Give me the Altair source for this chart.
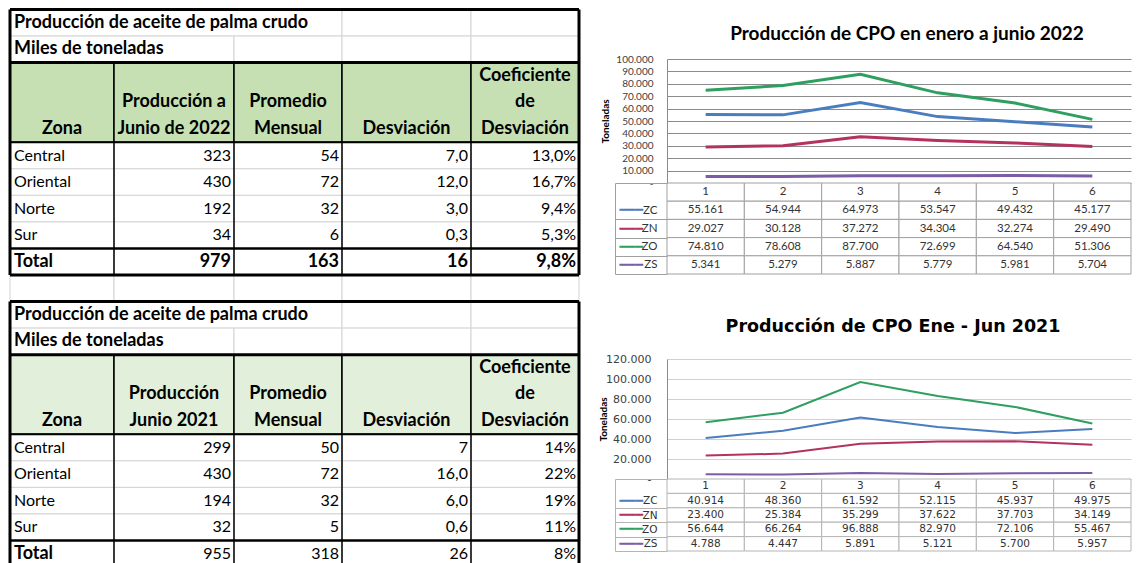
import altair as alt
import pandas as pd

FONT = "Lato"
FONT2 = "DejaVu Sans"

# ---------------- Tables (left) ----------------
t_titulo = "Producción de aceite de palma crudo"
t_unidad = "Miles de toneladas"
zonas = ["Central", "Oriental", "Norte", "Sur", "Total"]
enc_2022 = [["", "", "Zona"], ["", "Producción a", "Junio de 2022"], ["", "Promedio", "Mensual"],
            ["", "", "Desviación"], ["Coeficiente", "de", "Desviación"]]
enc_2021 = [["", "", "Zona"], ["", "Producción", "Junio 2021"], ["", "Promedio", "Mensual"],
            ["", "", "Desviación"], ["Coeficiente", "de", "Desviación"]]
prod_2022 = ["323", "430", "192", "34", "979"]
prom_2022 = ["54", "72", "32", "6", "163"]
desv_2022 = ["7,0", "12,0", "3,0", "0,3", "16"]
coef_2022 = ["13,0%", "16,7%", "9,4%", "5,3%", "9,8%"]
prod_2021 = ["299", "430", "194", "32", "955"]
prom_2021 = ["50", "72", "32", "5", "318"]
desv_2021 = ["7", "16,0", "6,0", "0,6", "26"]
coef_2021 = ["14%", "22%", "19%", "11%", "8%"]

# ---------------- Line charts (right) ----------------
meses = [1, 2, 3, 4, 5, 6]
series = ["ZC", "ZN", "ZO", "ZS"]
zc_2022 = [55161, 54944, 64973, 53547, 49432, 45177]
zn_2022 = [29027, 30128, 37272, 34304, 32274, 29490]
zo_2022 = [74810, 78608, 87700, 72699, 64540, 51306]
zs_2022 = [5341, 5279, 5887, 5779, 5981, 5704]
zc_2021 = [40914, 48360, 61592, 52115, 45937, 49975]
zn_2021 = [23400, 25384, 35299, 37622, 37703, 34149]
zo_2021 = [56644, 66264, 96888, 82970, 72106, 55467]
zs_2021 = [4788, 4447, 5891, 5121, 5700, 5957]
colores = ["#4a7cc0", "#b3325e", "#2f9f60", "#7c5ca6"]

# ---------- left table construction ----------
col_edges_px = [2, 106, 226, 334, 463, 571]
ROW_H = 26.55
TOP = -49.5
xs = alt.Scale(domain=[0, 1, 2, 3, 4, 5], range=col_edges_px)
ys = alt.Scale(domain=[0, 21], range=[TOP, TOP + 21 * ROW_H])


def tabla(R, enc, cols, green, total_bold):
    gray, greens, rules, texts = [], [], [], []
    for r, segs in [(R, [(0, 3), (3, 4), (4, 5)]), (R + 1, [(0, 2), (2, 3), (3, 4), (4, 5)])]:
        for a, b in segs:
            gray.append(dict(x0=a, x1=b, y0=r, y1=r + 1))
    for r in range(R + 5, R + 11):
        for c in range(5):
            gray.append(dict(x0=c, x1=c + 1, y0=r, y1=r + 1))
    for c in range(5):
        greens.append(dict(x0=c, x1=c + 1, y0=R + 2, y1=R + 5, fill=green))
    for y, w in [(R, 3), (R + 2, 3), (R + 5, 2), (R + 9, 2.5), (R + 10, 3)]:
        rules.append(dict(x0=0, x1=5, y0=y, y1=y, w=w))
    rules.append(dict(x0=0, x1=0, y0=R, y1=R + 10, w=3))
    rules.append(dict(x0=5, x1=5, y0=R, y1=R + 10, w=3))
    for c in range(1, 5):
        rules.append(dict(x0=c, x1=c, y0=R + 5, y1=R + 10, w=1.5))
    texts.append(dict(x=0, y=R + 0.5, t=t_titulo, k="lb"))
    texts.append(dict(x=0, y=R + 1.5, t=t_unidad, k="lb"))
    for c, lines in enumerate(enc):
        for i, s in enumerate(lines):
            if s:
                texts.append(dict(x=c + 0.5, y=R + 2.5 + i, t=s, k="cb"))
    for i, z in enumerate(zonas):
        y = R + 5.5 + i
        last = i == len(zonas) - 1
        texts.append(dict(x=0, y=y, t=z, k="lb" if last else "ln"))
        for c, col in enumerate(cols):
            texts.append(dict(x=c + 2, y=y, t=col[i], k="rb" if (last and total_bold) else "rn"))
    return gray, greens, rules, texts


g1, gr1, r1, t1 = tabla(0, enc_2022, [prod_2022, prom_2022, desv_2022, coef_2022], "#c6e0b4", True)
g2, gr2, r2, t2 = tabla(11, enc_2021, [prod_2021, prom_2021, desv_2021, coef_2021], "#e2efda", False)
gray_df = pd.DataFrame(g1 + g2)
green_df = pd.DataFrame(gr1 + gr2)
rule_df = pd.DataFrame(r1 + r2)
text_df = pd.DataFrame(t1 + t2)

X0 = alt.X("x0:Q", scale=xs, axis=None)
Y0 = alt.Y("y0:Q", scale=ys, axis=None)
gray_layer = alt.Chart(gray_df).mark_rect(fill="white", stroke="#d4d4d4", strokeWidth=1).encode(
    x=X0, x2="x1:Q", y=Y0, y2="y1:Q")
green_layer = alt.Chart(green_df).mark_rect(stroke="black", strokeWidth=1.5).encode(
    x=X0, x2="x1:Q", y=Y0, y2="y1:Q", fill=alt.Fill("fill:N", scale=None))
rule_layer = alt.Chart(rule_df).mark_rule(color="black").encode(
    x=X0, x2="x1:Q", y=Y0, y2="y1:Q", strokeWidth=alt.StrokeWidth("w:Q", scale=None))
text_layers = []
for k, (al, wt, dx, fs) in {"lb": ("left", "bold", 4, 18), "ln": ("left", "normal", 4, 16),
                            "cb": ("center", "bold", 0, 18), "rn": ("right", "normal", -3, 16),
                            "rb": ("right", "bold", -3, 18)}.items():
    text_layers.append(
        alt.Chart(text_df).transform_filter(alt.datum.k == k).mark_text(
            align=al, fontWeight=wt, dx=dx, font=FONT, fontSize=fs, baseline="middle", color="black"
        ).encode(x=alt.X("x:Q", scale=xs, axis=None), y=alt.Y("y:Q", scale=ys, axis=None), text="t:N"))
left = alt.layer(gray_layer, green_layer, rule_layer, *text_layers).properties(width=575, height=508)


# ---------- right charts ----------
def bloque(vals, title_text, ymax, ystep, fnt, tfnt, tsize, tdx, lw, gridc, border, plot_h, tab_h,
           lab_size, tab_size, title_offset, lab_pad, title_pad):
    df = pd.DataFrame([dict(serie=s, mes=m, valor=v) for s, vv in zip(series, vals) for m, v in zip(meses, vv)])
    line = alt.Chart(df).mark_line(strokeWidth=lw).encode(
        x=alt.X("mes:O", axis=None, scale=alt.Scale(padding=0.5)),
        y=alt.Y("valor:Q", scale=alt.Scale(domain=[0, ymax], nice=False),
                axis=alt.Axis(values=list(range(0, ymax + 1, ystep)),
                              labelExpr="datum.value == 0 ? '-' : replace(format(datum.value, ','), ',', '.')",
                              title="Toneladas", titleFont=FONT, titleFontSize=10, titleFontWeight="bold",
                              titleColor="black", titlePadding=title_pad, labelFont=fnt, labelFontSize=lab_size,
                              labelColor="#404040", labelPadding=lab_pad, ticks=False, domain=True,
                              domainColor="#8a8a8a", grid=True, gridColor=gridc)),
        color=alt.Color("serie:N", scale=alt.Scale(domain=series, range=colores), legend=None),
    ).properties(width=464, height=plot_h,
                 title=alt.TitleParams(text=title_text, font=tfnt, fontSize=tsize, fontWeight="bold",
                                       color="black", offset=title_offset, anchor="middle", dx=tdx))
    filas = [" "] + series
    rows = [dict(fila=" ", mes=m, txt=str(m)) for m in meses]
    rows += [dict(fila=s, mes=m, txt=f"{v:,}".replace(",", ".")) for s, vv in zip(series, vals)
             for m, v in zip(meses, vv)]
    tdf = pd.DataFrame(rows)
    xb = alt.X("mes:O", axis=None, scale=alt.Scale(paddingInner=0, paddingOuter=0))
    ysc = alt.Scale(domain=filas, paddingInner=0, paddingOuter=0)
    axis_a = alt.Axis(title=None, orient="left", domain=False, ticks=True, tickBand="extent", tickSize=52,
                      tickColor=border, tickOpacity={"condition": {"test": "datum.value === ' '", "value": 0},
                                                     "value": 1},
                      labelExpr="datum.value == ' ' ? '' : datum.value", labelFont=fnt,
                      labelFontSize=tab_size, labelColor="#333333", labelAlign="right", labelPadding=-42,
                      grid=False)
    axis_b = alt.Axis(title=None, orient="left", offset=52, domain=True, domainColor=border, ticks=False,
                      labelExpr="datum.value == ' ' ? '' : '━━━'", labelFont=FONT2, labelFontSize=13,
                      labelAlign="left", labelPadding=-4,
                      labelColor={"condition": [{"test": "datum.value === '%s'" % s, "value": c}
                                                for s, c in zip(series, colores)], "value": "#000000"},
                      grid=False)
    rects = alt.Chart(tdf).mark_rect(fill="white", stroke=border, strokeWidth=1).encode(
        x=xb, y=alt.Y("fila:N", scale=ysc, axis=axis_a))
    texts = alt.Chart(tdf).mark_text(font=fnt, fontSize=tab_size, color="#333333").encode(
        x=xb, y=alt.Y("fila:N", scale=ysc, axis=axis_b), text="txt:N")
    table = alt.layer(rects, texts).resolve_axis(y="independent").properties(width=464, height=tab_h)
    return alt.vconcat(line, table, spacing=0, bounds="flush")


b1 = bloque([zc_2022, zn_2022, zo_2022, zs_2022], "Producción de CPO en enero a junio 2022",
            100000, 10000, FONT, FONT, 19, 8, 3, "#8c8c8c", "#a0a0a0", 124, 91, 10, 11.5, 10, 14, 5)
b2 = bloque([zc_2021, zn_2021, zo_2021, zs_2021], "Producción de CPO Ene - Jun 2021",
            120000, 20000, FONT2, FONT2, 17.5, -6, 2, "#d0d0d0", "#b4b4b4", 120, 72, 11, 10.5, 18, 16, -3)
right = alt.vconcat(b1, b2, spacing=42)

chart = alt.hconcat(left, right, spacing=15).properties(padding=0).configure_view(stroke=None)
chart.save("out.html", embed_options={"renderer": "svg", "actions": False})
